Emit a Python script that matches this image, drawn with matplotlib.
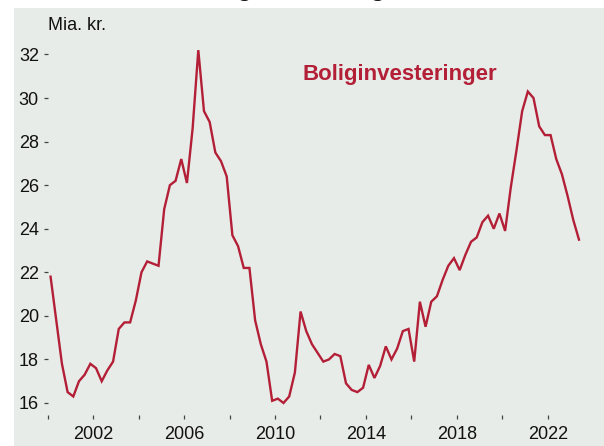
import numpy as np
import matplotlib
matplotlib.use("Agg")
import matplotlib.pyplot as plt
from matplotlib.patches import Rectangle

plt.rcParams['font.family'] = ['Liberation Sans', 'DejaVu Sans']

# Quarterly housing investment, 2000Q1 - 2023Q2 (bn. DKK)
start_year = 2000
values = [
    21.8, 19.8, 17.8, 16.5, 16.3, 17.0, 17.3, 17.8, 17.6, 17.0,
    17.5, 17.9, 19.4, 19.7, 19.7, 20.7, 22.0, 22.5, 22.4, 22.3,
    24.9, 26.0, 26.2, 27.2, 26.1, 28.6, 32.2, 29.4, 28.9, 27.5,
    27.1, 26.4, 23.7, 23.2, 22.2, 22.2, 19.8, 18.7, 17.9, 16.1,
    16.2, 16.0, 16.3, 17.4, 20.2, 19.3, 18.7, 18.3, 17.9, 18.0,
    18.25, 18.15, 16.9, 16.6, 16.5, 16.7, 17.75, 17.15, 17.7, 18.6,
    18.0, 18.5, 19.3, 19.4, 17.9, 20.65, 19.5, 20.65, 20.9, 21.65,
    22.3, 22.65, 22.1, 22.8, 23.4, 23.6, 24.3, 24.6, 24.0, 24.7,
    23.9, 25.9, 27.6, 29.4, 30.3, 30.0, 28.7, 28.3, 28.3, 27.2,
    26.5, 25.5, 24.4, 23.5,
]
quarters = start_year + 0.125 + 0.25 * np.arange(len(values))

x_ticks = list(range(2000, 2023, 2))
x_labels = [str(y) if (y - 2002) % 4 == 0 else "" for y in x_ticks]
y_ticks = list(range(16, 33, 2))

series_label = "Boliginvesteringer"
unit_label = "Mia. kr."

RED = "#b31f36"
BG = "#e8ece9"

W, H = 604, 446
fig = plt.figure(figsize=(W / 100, H / 100), dpi=100)
fig.patch.set_facecolor("white")
bg = Rectangle((14 / W, 0), 1, (H - 7.7) / H, transform=fig.transFigure,
               facecolor=BG, edgecolor="none", zorder=-10)
fig.patches.append(bg)

ax = fig.add_axes([47.5 / W, 31 / H, (590 - 47.5) / W, (415 - 43.6) / H])
ax.set_zorder(1)
ax.set_facecolor(BG)
for s in ax.spines.values():
    s.set_visible(False)

ax.plot(quarters, values, color=RED, lw=1.7, solid_joinstyle="miter")

ax.set_xlim(1999.99, 2023.86)
ax.set_ylim(15.449, 32.5)
ax.set_xticks(x_ticks)
ax.set_xticklabels(x_labels)
ax.set_yticks(y_ticks)
ax.tick_params(axis="both", labelsize=13, colors="#444444", labelcolor="#111111",
               width=0.9, length=3.2, direction="out")
ax.tick_params(axis="x", pad=5)
ax.tick_params(axis="y", pad=3)

fig.text(302.7 / W, 1 - 80 / H, series_label, color=RED, fontsize=16,
         fontweight="bold", ha="left", va="baseline", zorder=2)

fig.text(48 / W, 1 - 25 / H, unit_label, fontsize=13, color="#111111",
         ha="left", va="center", zorder=2)

fig.text(300.5 / W, 1 + 3.8 / H, series_label, fontsize=18, fontweight="bold",
         color="#111111", ha="center", va="baseline")

fig.savefig("out.png", dpi=100, facecolor=fig.get_facecolor())
